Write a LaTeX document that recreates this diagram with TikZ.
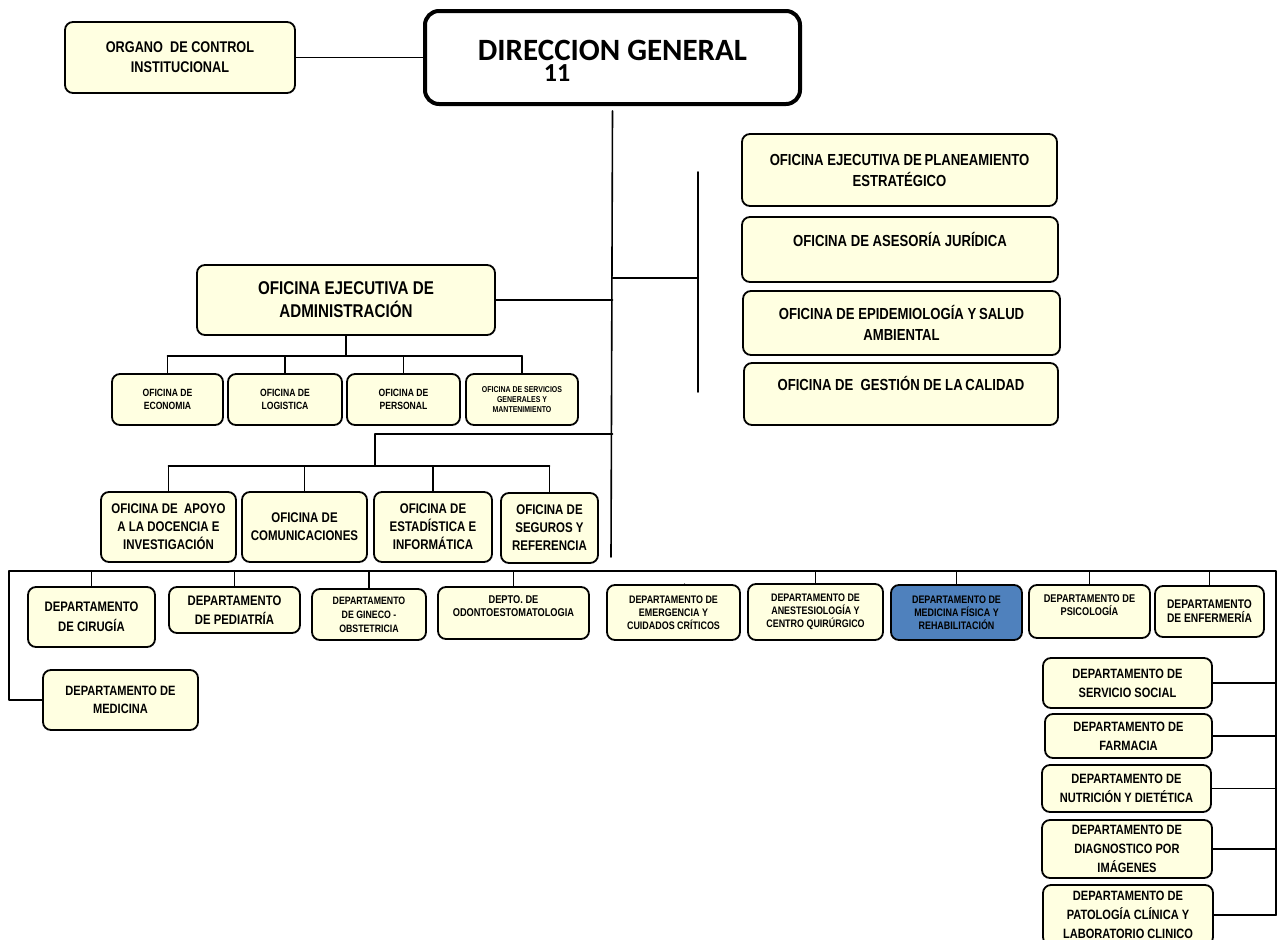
\documentclass[tikz,border=0pt]{standalone}
\usepackage{fontspec}
\setmainfont{Liberation Sans}[FakeStretch=0.82]
\newfontfamily\titlefont{Carlito}
\usetikzlibrary{calc}
\definecolor{boxfill}{HTML}{FFFFE1}
\definecolor{boxblue}{HTML}{4F81BD}
\newcommand{\orgfont}[2]{\fontsize{#1}{#2}\selectfont\bfseries}
\tikzset{orgchart/.style={
  x={(1pt,0pt)},
  y={(0pt,-1pt)},
  line join=round,line cap=round
},
unit/.style={draw,fill=boxfill,rounded corners=8pt,line width=1.8pt,align=center,inner sep=1pt},
head/.style={draw,fill=white,rounded corners=14pt,line width=4pt,align=center},
link/.style={line width=1.6pt}
}

\begin{document}
\begin{tikzpicture}[orgchart]
  \useasboundingbox (0,0) rectangle (1283,940);
  % top
  \node[unit,minimum width=230,minimum height=71,font=\orgfont{15.5}{20}] (organo) at (180,57.5) {ORGANO\ \ DE CONTROL\\INSTITUCIONAL};
  \node[head,minimum width=375,minimum height=93,font=\titlefont\bfseries\fontsize{31}{33}\selectfont] (dir) at (612.5,57.5) {\raisebox{-2.5pt}[0pt][0pt]{DIRECCION GENERAL}};
  \node[font=\titlefont\bfseries\fontsize{26}{28}\selectfont,inner sep=0pt] (dirnum) at (557,73) {11};
  % right staff offices
  \node[unit,minimum width=315,minimum height=72,font=\orgfont{16}{21}] (plan) at (899.5,170) {OFICINA EJECUTIVA DE\,PLANEAMIENTO\\ESTRATÉGICO};
  \node[unit,minimum width=316,minimum height=65,font=\orgfont{16}{21}] (jur) at (900,249.5) {OFICINA DE ASESORÍA JURÍDICA\\~};
  \node[unit,minimum width=317,minimum height=64,font=\orgfont{16}{21}] (epi) at (901.5,323) {OFICINA DE EPIDEMIOLOGÍA Y\,SALUD\\AMBIENTAL};
  \node[unit,minimum width=314,minimum height=62,font=\orgfont{16}{21}] (cal) at (901,394) {OFICINA DE\ \ GESTIÓN DE LA\,CALIDAD\\~};
  % administration
  \node[unit,minimum width=298,minimum height=70,font=\orgfont{18.5}{23}] (adm) at (346,300) {OFICINA EJECUTIVA DE\\ADMINISTRACIÓN};
  \node[unit,minimum width=111,minimum height=51,font=\orgfont{10.5}{13}] (eco) at (167.5,399.5) {OFICINA DE\\ECONOMIA};
  \node[unit,minimum width=114,minimum height=51,font=\orgfont{10.5}{13}] (log) at (285,399.5) {OFICINA DE\\LOGISTICA};
  \node[unit,minimum width=113,minimum height=51,font=\orgfont{10.5}{13}] (per) at (403.5,399.5) {OFICINA DE\\PERSONAL};
  \node[unit,minimum width=112,minimum height=51,font=\orgfont{8.5}{10}] (serv) at (522,399.5) {OFICINA DE SERVICIOS\\GENERALES Y\\MANTENIMIENTO};
  % support offices
  \node[unit,minimum width=135,minimum height=70,font=\orgfont{14}{18}] (apoyo) at (168.5,527) {OFICINA DE\ \ APOYO\\A LA DOCENCIA E\\INVESTIGACIÓN};
  \node[unit,minimum width=125,minimum height=70,font=\orgfont{14}{18}] (com) at (304.5,527) {OFICINA DE\\COMUNICACIONES};
  \node[unit,minimum width=118,minimum height=70,font=\orgfont{14}{18}] (est) at (433,527) {OFICINA DE\\ESTADÍSTICA E\\INFORMÁTICA};
  \node[unit,minimum width=97,minimum height=70,font=\orgfont{14}{18}] (seg) at (549.5,528) {OFICINA DE\\SEGUROS Y\\REFERENCIA};
  % departments
  \node[unit,minimum width=127,minimum height=60,font=\orgfont{13.8}{20}] (cir) at (91.5,617) {DEPARTAMENTO\\DE CIRUGÍA};
  \node[unit,minimum width=131,minimum height=46,font=\orgfont{13.8}{19}] (ped) at (234.5,610) {DEPARTAMENTO\\DE PEDIATRÍA};
  \node[unit,minimum width=114,minimum height=51,font=\orgfont{10.7}{14}] (gin) at (369,614.5) {DEPARTAMENTO\\DE GINECO -\\OBSTETRICIA};
  \node[unit,minimum width=151,minimum height=52,font=\orgfont{11.3}{13}] (odo) at (513.5,613) {DEPTO. DE\\ODONTOESTOMATOLOGIA\\~};
  \node[unit,minimum width=133,minimum height=55,font=\orgfont{10.9}{13}] (eme) at (673.5,612.5) {DEPARTAMENTO DE\\EMERGENCIA Y\\CUIDADOS CRÍTICOS};
  \node[unit,minimum width=135,minimum height=56,font=\orgfont{10.9}{13}] (ane) at (815.5,612) {DEPARTAMENTO DE\\ANESTESIOLOGÍA Y\\CENTRO QUIRÚRGICO};
  \node[unit,fill=boxblue,minimum width=131,minimum height=55,font=\orgfont{10.9}{13}] (fis) at (956.5,612.5) {DEPARTAMENTO DE\\MEDICINA FÍSICA Y\\REHABILITACIÓN};
  \node[unit,minimum width=121,minimum height=53,font=\orgfont{11.2}{13}] (psi) at (1089.5,611.5) {DEPARTAMENTO DE\\PSICOLOGÍA\\~};
  \node[unit,minimum width=109,minimum height=51,font=\orgfont{12.5}{14}] (enf) at (1209.5,611.5) {DEPARTAMENTO\\DE ENFERMERÍA};
  \node[unit,minimum width=155,minimum height=60,font=\orgfont{13.5}{18}] (med) at (120.5,700) {DEPARTAMENTO DE\\MEDICINA};
  \node[unit,minimum width=169,minimum height=50,font=\orgfont{13.5}{19}] (soc) at (1127.5,683) {DEPARTAMENTO DE\\SERVICIO SOCIAL};
  \node[unit,minimum width=167,minimum height=44,font=\orgfont{13.5}{19}] (far) at (1128.5,736) {DEPARTAMENTO DE\\FARMACIA};
  \node[unit,minimum width=169,minimum height=47,font=\orgfont{13.5}{19}] (nut) at (1126.5,788.5) {DEPARTAMENTO DE\\NUTRICIÓN Y DIETÉTICA};
  \node[unit,minimum width=170,minimum height=58,font=\orgfont{13.5}{19}] (dia) at (1127,849) {DEPARTAMENTO DE\\DIAGNOSTICO POR\\IMÁGENES};
  \node[unit,minimum width=170,minimum height=60,font=\orgfont{13.5}{19}] (pat) at (1128,915) {DEPARTAMENTO DE\\PATOLOGÍA CLÍNICA Y\\LABORATORIO CLINICO};
  % connectors
  \coordinate (trunktop) at ($(dir.south)+(0,5)$);
  \coordinate (trunkend) at (611,557);
  \coordinate (rjoin) at (698,278);
  \coordinate (rtop) at (698,172);
  \coordinate (rbot) at (698,392);
  \coordinate (admbus) at (346,356);
  \coordinate (supjoin) at (375,434);
  \coordinate (supbus) at (375,466);
  \coordinate (busL) at (9,571);
  \coordinate (busR) at (1276,571);
  \draw[link] (organo.east) -- (dir.west);
  \draw[link] (trunktop) -- (trunkend);
  \draw[link] (rjoin -| trunktop) -- (rjoin);
  \draw[link] (rtop) -- (rbot);
  \draw[link] (adm.east) -- (adm.east -| trunktop);
  \draw[link] (adm.south) -- (admbus);
  \draw[link] (eco.north |- admbus) -- (serv.north |- admbus);
  \foreach \n in {eco,log,per,serv}
    \draw[link] (\n.north |- admbus) -- (\n.north);
  \draw[link] (supjoin -| trunktop) -- (supjoin) -- (supbus);
  \draw[link] (apoyo.north |- supbus) -- (seg.north |- supbus);
  \foreach \n in {apoyo,com,est,seg}
    \draw[link] (\n.north |- supbus) -- (\n.north);
  \draw[link] (med.west) -- (med.west -| busL) -- (busL) -- (busR) -- (busR |- pat.east);
  \foreach \n in {cir,ped,gin,odo,ane,fis,psi,enf}
    \draw[link] (\n.north |- busL) -- (\n.north);
  \draw[link] ($(eme.north)+(11,0)$ |- busL) -- ($(eme.north)+(11,0)$);
  \foreach \n in {soc,far,nut,dia,pat}
    \draw[link] (\n.east) -- (\n.east -| busR);
\end{tikzpicture}
\end{document}
